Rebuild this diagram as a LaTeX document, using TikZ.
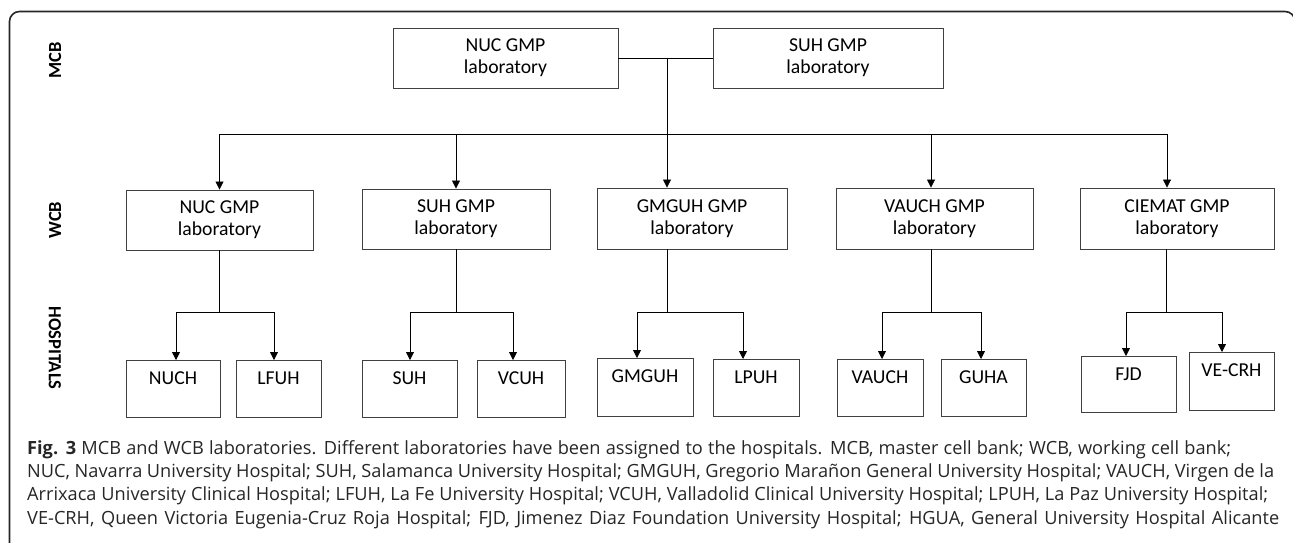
\documentclass[tikz,border=0pt]{standalone}
\usepackage{fontspec}
\setmainfont{Carlito}
\newfontfamily\capfont{Open Sans}
\usetikzlibrary{arrows.meta}
\begin{document}
\begin{tikzpicture}[x=1pt,y=-1pt,
  box/.style={draw=black!75, line width=0.9pt, inner sep=0pt, align=center,
    font=\fontsize{19.7}{22}\selectfont},
  lab/.style={box, minimum height=60pt},
  hosp/.style={box, text height=24.5pt, text depth=32.5pt},
  arr/.style={-{Triangle[width=8pt,length=8pt]}, line width=0.8pt},
  conn/.style={line width=0.8pt},
  side/.style={font=\fontsize{18.5}{20}\selectfont\bfseries},
  captxt/.style={anchor=base west, inner sep=0pt, text=black!85,
    font=\capfont\fontsize{18.2}{20}\selectfont},
  frame/.style={line width=1.6pt, draw=black!85}
]
\useasboundingbox (0,0) rectangle (1293,542);
\draw[frame] (9.5,560) [rounded corners=10pt] -- (9.5,11.5) -- (1295,11.5) -- (1295,560);

% side labels
\node[side, rotate=90]  (lmcb) at (55,60)  {MCB};
\node[side, rotate=90]  (lwcb) at (55,220) {WCB};
\node[side, rotate=-90] (lhos) at (55,348) {HOSPITALS};

% MCB
\node[lab, minimum width=225pt] (mA) at (505.5,58) {NUC GMP\\laboratory};
\node[lab, minimum width=230pt] (mB) at (828,58)   {SUH GMP\\laboratory};

% WCB
\node[lab, minimum width=187pt] (wA) at (219.5,220)  {NUC GMP\\laboratory};
\node[lab, minimum width=188pt] (wB) at (456,219)    {SUH GMP\\laboratory};
\node[lab, minimum width=190pt, minimum height=61pt] (wC) at (692,218.5)  {GMGUH GMP\\laboratory};
\node[lab, minimum width=197pt, minimum height=61pt] (wD) at (934.5,218.5) {VAUCH GMP\\laboratory};
\node[lab, minimum width=194pt, minimum height=61pt] (wE) at (1177,218.5)  {CIEMAT GMP\\laboratory};

% hospitals
\node[hosp, minimum width=94pt] (hA1) at (173,360)    [anchor=north] {NUCH};
\node[hosp, minimum width=85pt] (hA2) at (278.5,360)  [anchor=north] {LFUH};
\node[hosp, minimum width=95pt] (hB1) at (409.5,360)  [anchor=north] {SUH};
\node[hosp, minimum width=88pt] (hB2) at (521,360)    [anchor=north] {VCUH};
\node[hosp, minimum width=96pt, text depth=33.5pt] (hC1) at (645,358) [anchor=north] {GMGUH};
\node[hosp, minimum width=86pt, text depth=32.5pt] (hC2) at (756,359) [anchor=north] {LPUH};
\node[hosp, minimum width=86pt, text depth=32.5pt] (hD1) at (880,359) [anchor=north] {VAUCH};
\node[hosp, minimum width=85pt, text depth=32.5pt] (hD2) at (983.5,359) [anchor=north] {GUHA};
\node[hosp, minimum width=95pt, text depth=31.5pt] (hE1) at (1128.5,356) [anchor=north] {FJD};
\node[hosp, minimum width=85pt, text depth=33.5pt] (hE2) at (1231.5,352) [anchor=north] {VE-CRH};

% MCB connectors
\coordinate (mj) at (667,58);
\coordinate (bus) at (667,134);
\draw[conn] (mA.east) -- (mB.west);
\draw[arr] (mj) -- (mj |- wC.north);
\draw[arr] (bus) -| (wA.north);
\draw[arr] (bus) -| (wB.north);
\draw[arr] (bus) -| ([xshift=-3.5pt]wD.north);
\draw[arr] (bus) -| ([xshift=-10pt]wE.north);

% WCB -> hospitals
\coordinate (bA) at (219.5,312);
\coordinate (bB) at (456,312);
\coordinate (bC) at (667.5,312);
\coordinate (bD) at (931,312);
\coordinate (bE) at (1166,312);
\draw[conn] (wA.south) -- (bA);
\draw[conn] (wB.south) -- (bB);
\draw[conn] (bC |- wC.south) -- (bC);
\draw[conn] (bD |- wD.south) -- (bD);
\draw[conn] (bE |- wE.south) -- (bE);
\draw[arr] (bA) -| ([xshift=3pt]hA1.north);
\draw[arr] (bA) -| ([xshift=-4.5pt]hA2.north);
\draw[arr] (bB) -| ([xshift=0.5pt]hB1.north);
\draw[arr] (bB) -| ([xshift=-8pt]hB2.north);
\draw[arr] (bC) -| ([xshift=-8pt]hC1.north);
\draw[arr] (bC) -| ([xshift=-13pt]hC2.north);
\draw[arr] (bD) -| ([xshift=2pt]hD1.north);
\draw[arr] (bD) -| ([xshift=-2.5pt]hD2.north);
\draw[arr] (bE) -| ([xshift=-2.5pt]hE1.north);
\draw[arr] (bE) -| ([xshift=-9.5pt]hE2.north);

% caption
\node[captxt] (c1) at (27,454) {\makebox[1204pt][s]{\textbf{Fig. 3} MCB and WCB laboratories. Different laboratories have been assigned to the hospitals. MCB, master cell bank; WCB, working cell bank;}};
\node[captxt] (c2) at (27,477.3) {\makebox[1247pt][s]{NUC, Navarra University Hospital; SUH, Salamanca University Hospital; GMGUH, Gregorio Marañon General University Hospital; VAUCH, Virgen de la}};
\node[captxt] (c3) at (27,500.6) {\makebox[1241pt][s]{Arrixaca University Clinical Hospital; LFUH, La Fe University Hospital; VCUH, Valladolid Clinical University Hospital; LPUH, La Paz University Hospital;}};
\node[captxt] (c4) at (27,524) {\makebox[1252pt][s]{VE-CRH, Queen Victoria Eugenia-Cruz Roja Hospital; FJD, Jimenez Diaz Foundation University Hospital; HGUA, General University Hospital Alicante}};
\end{tikzpicture}
\end{document}
